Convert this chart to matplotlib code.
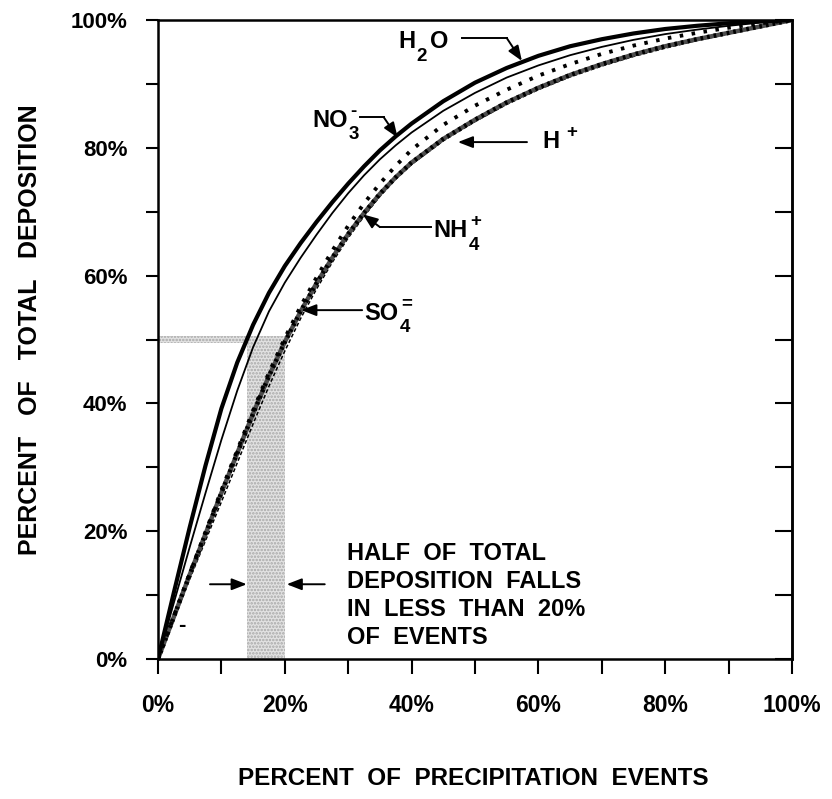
import matplotlib
matplotlib.use('Agg')
from matplotlib import pyplot as plt
from matplotlib.ticker import MultipleLocator, FuncFormatter

plt.rcParams['font.family'] = ['Liberation Sans', 'DejaVu Sans']
plt.rcParams['font.weight'] = 'bold'
plt.rcParams['hatch.linewidth'] = 1.2

# cumulative share of deposition (%) vs share of precipitation events (%)
h2o_x = [0, 2.5, 5, 7.5, 10, 12.5, 15, 17.5, 20, 22.5, 25, 27.5, 30, 32.5, 35, 37.5, 40,
         45, 50, 55, 60, 65, 70, 75, 80, 85, 90, 95, 100]
h2o_y = [0, 10.4, 20.6, 30.3, 39.2, 46.4, 52.3, 57.3, 61.5, 65.1, 68.4, 71.5, 74.4, 77.1, 79.6, 81.8, 83.8,
         87.3, 90.2, 92.5, 94.4, 95.9, 97.0, 97.9, 98.6, 99.1, 99.5, 99.8, 100]

no3_x = [0, 2.5, 5, 7.5, 10, 12.5, 15, 17.5, 20, 22.5, 25, 27.5, 30, 32.5, 35, 37.5, 40,
         45, 50, 55, 60, 65, 70, 75, 80, 85, 90, 95, 100]
no3_y = [0, 8.8, 17.5, 26.0, 34.3, 42.0, 48.8, 54.4, 58.9, 62.8, 66.4, 69.8, 72.9, 75.7, 78.2, 80.4, 82.4,
         85.8, 88.6, 91.0, 92.9, 94.5, 95.8, 96.9, 97.8, 98.5, 99.1, 99.6, 100]

hplus_x = [0, 5, 10, 15, 17.5, 20, 22.5, 25, 27.5, 30, 32.5, 35, 37.5, 40, 45, 50, 55, 60, 65, 70, 75, 80, 85, 90, 95, 100]
hplus_y = [0, 13.4, 26.4, 38.9, 44.8, 50.2, 55.2, 59.7, 63.9, 67.8, 71.3, 74.4, 77.2, 79.7, 83.6, 86.6, 89.1,
           91.3, 93.1, 94.7, 96.0, 97.1, 98.0, 98.8, 99.5, 100]

nh4_x = [0, 5, 10, 15, 17.5, 20, 22.5, 25, 27.5, 30, 32.5, 35, 37.5, 40, 45, 50, 55, 60, 65, 70, 75, 80, 85, 90, 95, 100]
nh4_y = [0, 13.2, 26.0, 38.4, 44.3, 49.6, 54.4, 58.8, 62.8, 66.5, 69.8, 72.8, 75.4, 77.7, 81.4, 84.4, 87.1,
         89.4, 91.4, 93.1, 94.6, 95.9, 97.0, 98.0, 99.0, 100]

so4_x = [0, 5, 10, 15, 17.5, 20, 22.5, 25, 27.5, 30, 32.5, 35, 37.5, 40, 45, 50, 55, 60, 65, 70, 75, 80, 85, 90, 95, 100]
so4_y = [0, 12.5, 24.6, 36.8, 42.7, 48.2, 53.3, 57.9, 62.1, 65.9, 69.3, 72.4, 75.1, 77.4, 81.1, 84.1, 86.8,
         89.1, 91.1, 92.8, 94.3, 95.6, 96.8, 97.8, 98.9, 100]

# shaded band: half of deposition within 14-20% of events
band_x0, band_x1 = 14.0, 20.0
half_level = 50

fig = plt.figure(figsize=(8.32, 7.99), dpi=100)
ax = fig.add_axes([0.1899, 0.1752, 0.762, 0.7997])
ax.set_xlim(0, 100)
ax.set_ylim(0, 100)

shade = dict(facecolor='#e2e2e2', edgecolor='#a8a8a8', hatch='.....', lw=0, zorder=1)
ax.fill_between([band_x0, band_x1], 0, half_level + 0.5, **shade)
ax.fill_between([0, band_x1], half_level - 0.5, half_level + 0.5, **shade)

ax.plot(so4_x, so4_y, color='black', lw=1.1, ls=(0, (2.5, 1.5)), zorder=3)
ax.plot(nh4_x, nh4_y, color='0.3', lw=3.2, zorder=3)
ax.plot(nh4_x, nh4_y, color='black', lw=3.2, ls=(0, (0.6, 0.9)), zorder=3)
ax.plot(hplus_x, hplus_y, color='black', lw=2.8, ls=(0, (0.9, 2.2)), zorder=4)
ax.plot(no3_x, no3_y, color='black', lw=1.3, zorder=4)
ax.plot(h2o_x, h2o_y, color='black', lw=3.0, zorder=5)

for s in ax.spines.values():
    s.set_linewidth(1.8)

pct = FuncFormatter(lambda v, p: f'{v:.0f}%')
ax.xaxis.set_major_locator(MultipleLocator(20))
ax.xaxis.set_minor_locator(MultipleLocator(10))
ax.yaxis.set_major_locator(MultipleLocator(20))
ax.yaxis.set_minor_locator(MultipleLocator(10))
ax.xaxis.set_major_formatter(pct)
ax.yaxis.set_major_formatter(pct)
ax.tick_params(axis='x', which='both', direction='out', length=11, width=1.5, top=False)
ax.tick_params(axis='x', which='major', pad=14, labelsize=16.5)
ax.tick_params(axis='y', which='both', direction='out', length=9, width=1.5, right=False)
ax.tick_params(axis='y', which='major', pad=13, labelsize=16)

right = ax.secondary_yaxis('right')
right.yaxis.set_major_locator(MultipleLocator(10))
right.tick_params(direction='in', length=12, width=1.5, labelright=False)
right.spines['right'].set_linewidth(1.8)

fig.text(0.569, 0.026, 'PERCENT  OF  PRECIPITATION  EVENTS', ha='center', va='center', fontsize=17.5)
fig.text(0.036, 0.588, 'PERCENT   OF   TOTAL   DEPOSITION', ha='center', va='center', rotation=90, fontsize=18)

renderer = fig.canvas.get_renderer()
PT = 72 / fig.dpi


def chem(x, y, base, sub='', sup='', tail='', sup_gap=2):
    """Formula label: base letters, stacked sub/superscript, optional trailing letters."""
    t = ax.text(x, y, base, fontsize=17, va='baseline', ha='left')
    w = t.get_window_extent(renderer).width * PT
    right_edge = w
    if sub:
        s = ax.annotate(sub, xy=(x, y), xytext=(w + 1, -9), textcoords='offset points',
                        fontsize=13.5, va='baseline', ha='left')
        right_edge = max(right_edge, w + 1 + s.get_window_extent(renderer).width * PT)
    if sup:
        ax.annotate(sup, xy=(x, y), xytext=(w + sup_gap, 8), textcoords='offset points',
                    fontsize=13.5, va='baseline', ha='left')
    if tail:
        ax.annotate(tail, xy=(x, y), xytext=(right_edge + 2, 0), textcoords='offset points',
                    fontsize=17, va='baseline', ha='left')


arrow = dict(arrowstyle='-|>,head_length=0.9,head_width=0.35', color='black', lw=1.4,
             shrinkA=0, shrinkB=0)

chem(37.9, 95.6, 'H', sub='2', tail='O')
ax.plot([47.9, 55.0], [97.2, 97.2], color='black', lw=1.4)
ax.annotate('', xy=(57.4, 93.6), xytext=(55.0, 97.2), arrowprops=arrow)

chem(24.3, 83.3, 'NO', sub='3', sup='-')
ax.plot([31.9, 35.6], [84.8, 84.8], color='black', lw=1.4)
ax.annotate('', xy=(37.8, 81.6), xytext=(35.6, 84.8), arrowprops=arrow)

chem(60.6, 80.0, 'H', sup='+', sup_gap=5)
ax.annotate('', xy=(47.3, 80.9), xytext=(58.2, 80.9), arrowprops=arrow)

chem(43.4, 66.0, 'NH', sub='4', sup='+')
ax.plot([43.0, 35.0], [67.6, 67.6], color='black', lw=1.4)
ax.annotate('', xy=(32.3, 69.6), xytext=(35.0, 67.6), arrowprops=arrow)

chem(32.6, 53.1, 'SO', sub='4', sup='=')
ax.annotate('', xy=(22.6, 54.6), xytext=(32.2, 54.6), arrowprops=arrow)

# arrows bracketing the band
ax.annotate('', xy=(band_x0, 11.7), xytext=(8.2, 11.7), arrowprops=arrow)
ax.annotate('', xy=(band_x1 + 0.3, 11.7), xytext=(26.3, 11.7), arrowprops=arrow)
ax.text(3.2, 5.3, '-', fontsize=16, va='center')

ax.text(29.8, 10.0, 'HALF  OF  TOTAL\nDEPOSITION  FALLS\nIN  LESS  THAN  20%\nOF  EVENTS',
        fontsize=17, va='center', ha='left', linespacing=1.28)

fig.savefig('out.png', dpi=100)
